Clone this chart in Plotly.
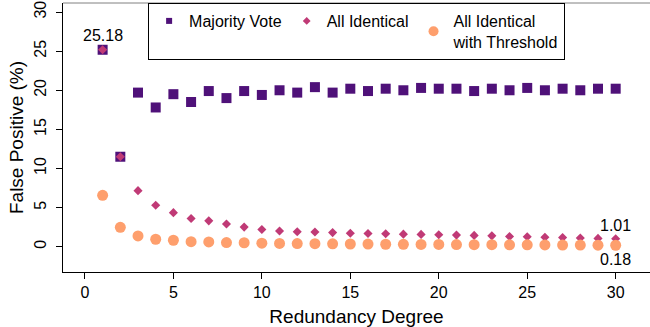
import plotly.graph_objects as go

degrees = list(range(1, 31))
majority_vote = [25.18, 11.5, 19.7, 17.8, 19.5, 18.5, 19.9, 19.0, 19.9, 19.4,
                 20.0, 19.7, 20.4, 19.7, 20.2, 19.9, 20.2, 20.0, 20.3, 20.2,
                 20.2, 19.9, 20.2, 20.0, 20.3, 20.0, 20.2, 20.0, 20.2, 20.2]
all_identical = [25.18, 11.5, 7.16, 5.3, 4.35, 3.6, 3.3, 2.9, 2.5, 2.2,
                 2.0, 1.9, 1.88, 1.8, 1.72, 1.68, 1.65, 1.6, 1.57, 1.53,
                 1.48, 1.44, 1.38, 1.3, 1.26, 1.2, 1.16, 1.11, 1.06, 1.01]
all_identical_thr = [6.57, 2.48, 1.37, 0.95, 0.82, 0.64, 0.6, 0.52, 0.5, 0.45,
                     0.42, 0.40, 0.38, 0.36, 0.34, 0.33, 0.31, 0.30, 0.29, 0.28,
                     0.27, 0.26, 0.25, 0.24, 0.23, 0.22, 0.21, 0.20, 0.19, 0.18]
series_names = ["Majority Vote", "All Identical", "All Identical<br>with Threshold"]
x_ticks = [0, 5, 10, 15, 20, 25, 30]
y_ticks = [0, 5, 10, 15, 20, 25, 30]

FONT = "Arial"
colors = ["#4F1179", "#C03A76", "#FE9F6D"]
symbols = ["square", "diamond", "circle"]
plot_sizes = [10, 7, 11]
legend_sizes = [6, 6, 10]
series = [majority_vote, all_identical, all_identical_thr]

fig = go.Figure()
for name, ys, col, sym, sz in zip(series_names, series, colors, symbols, plot_sizes):
    fig.add_trace(go.Scatter(x=degrees, y=ys, mode="markers", name=name, showlegend=False,
                             marker=dict(symbol=sym, size=sz, color=col)))
# legend-only entries (smaller symbols as in the reference legend)
for name, col, sym, sz in zip(series_names, colors, symbols, legend_sizes):
    fig.add_trace(go.Scatter(x=[None], y=[None], mode="markers", name=name, showlegend=True,
                             marker=dict(symbol=sym, size=sz, color=col)))

fig.add_annotation(x=degrees[0], y=majority_vote[0], text=f"{majority_vote[0]:.2f}",
                   showarrow=False, yanchor="bottom", yshift=4, font=dict(size=16, color="black"))
fig.add_annotation(x=degrees[-1], y=all_identical[-1], text=f"{all_identical[-1]:.2f}",
                   showarrow=False, yanchor="bottom", yshift=3, font=dict(size=16, color="black"))
fig.add_annotation(x=degrees[-1], y=all_identical_thr[-1], text=f"{all_identical_thr[-1]:.2f}",
                   showarrow=False, yanchor="top", yshift=-4, font=dict(size=16, color="black"))

fig.update_layout(
    width=650, height=327,
    margin=dict(l=63, r=0, t=3, b=55),
    paper_bgcolor="white", plot_bgcolor="white",
    font=dict(family=FONT, size=16, color="black"),
    showlegend=True,
    legend=dict(orientation="h", x=0.145, y=1, xanchor="left", yanchor="top",
                bordercolor="black", borderwidth=1, bgcolor="white",
                font=dict(size=16), itemwidth=30, tracegroupgap=0),
    xaxis=dict(range=[-1.24, 31.94], tickvals=x_ticks, ticks="outside", ticklen=6,
               tickcolor="black", showgrid=False, zeroline=False, showline=True,
               linecolor="black", linewidth=1, mirror=False,
               title=dict(text="Redundancy Degree", standoff=12),
               tickfont=dict(size=16)),
    yaxis=dict(range=[-3.24, 31.16], tickvals=y_ticks, ticks="outside", ticklen=6,
               tickcolor="black", showgrid=False, zeroline=False, showline=True,
               linecolor="black", linewidth=1, mirror=False, tickangle=-90,
               ticklabelstandoff=4,
               title=dict(text="False Positive (%)", standoff=2),
               tickfont=dict(size=16)),
    shapes=[dict(type="line", xref="paper", yref="paper", x0=0, x1=1, y0=1, y1=1,
                 line=dict(color="#808080", width=1))],
)

fig.write_html("out.html")
